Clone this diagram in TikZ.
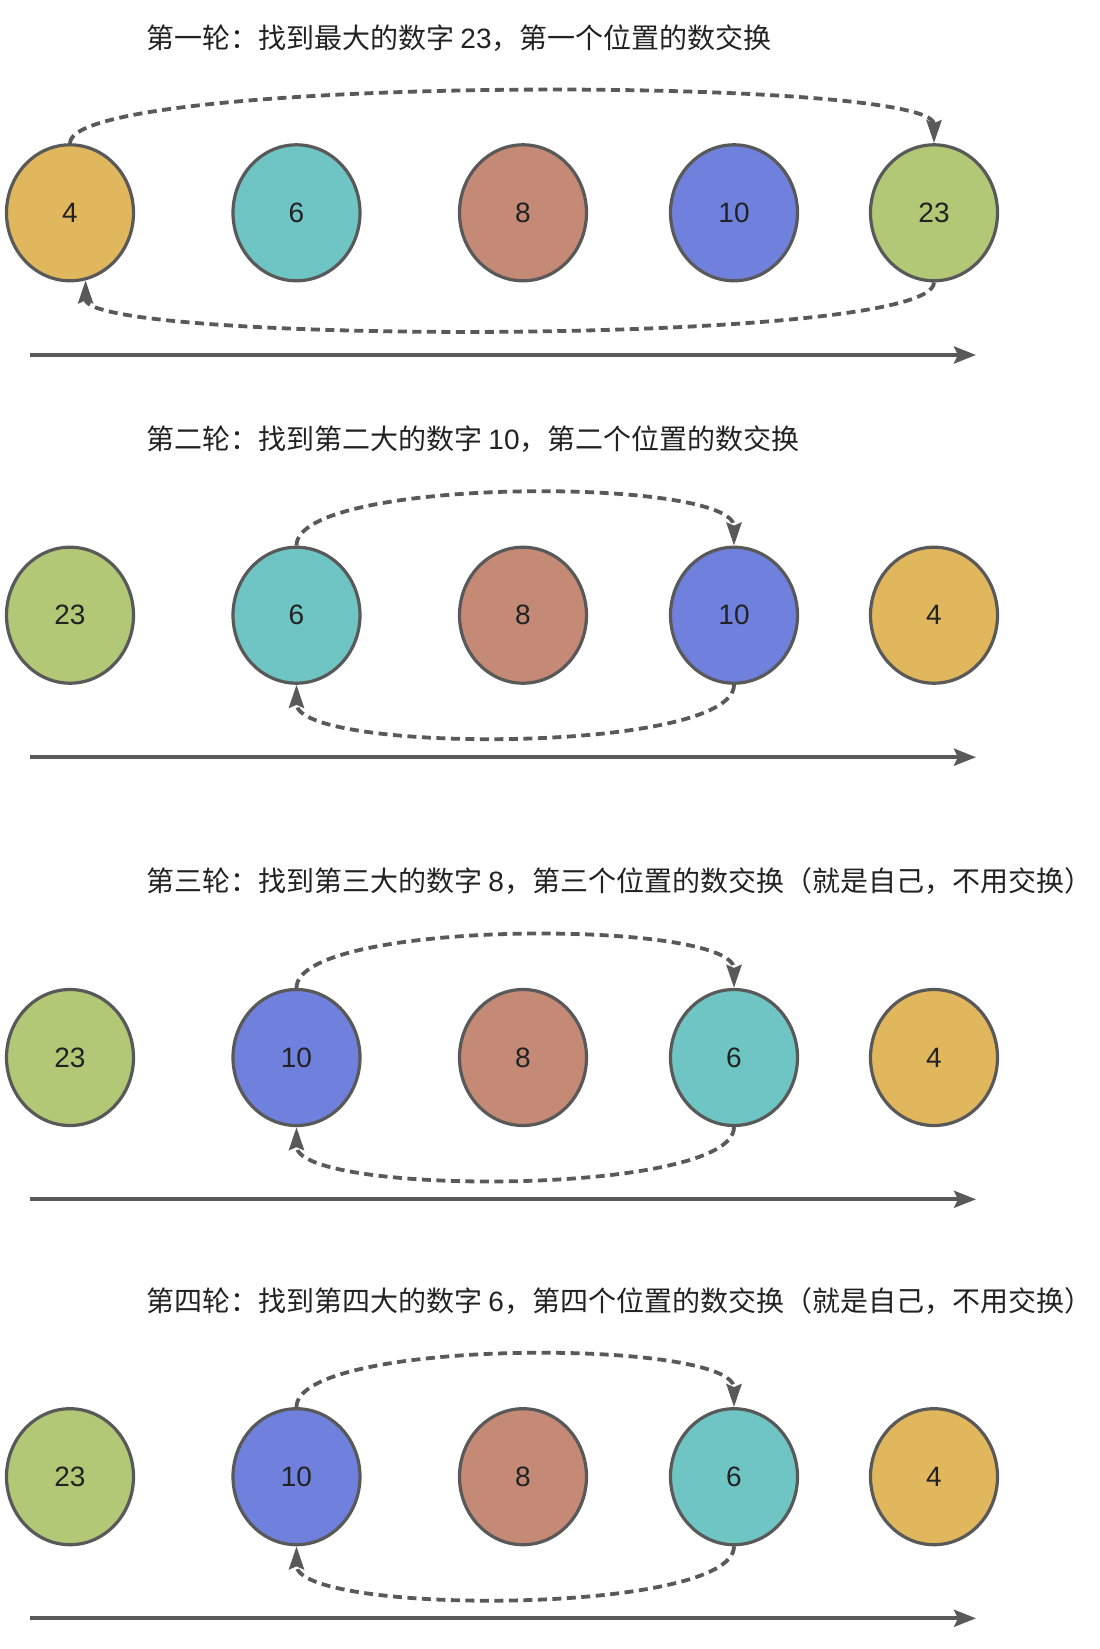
\documentclass[tikz,border=0pt]{standalone}
\usepackage{fontspec}
\setmainfont{Noto Sans CJK SC}
\newfontfamily\latf{Liberation Sans}
\usetikzlibrary{shapes.geometric,arrows.meta,calc}
\definecolor{cyel}{HTML}{E1B75D}
\definecolor{cteal}{HTML}{6FC4C4}
\definecolor{cbrown}{HTML}{C48A76}
\definecolor{cblue}{HTML}{6F80DD}
\definecolor{cgreen}{HTML}{B3C877}
\definecolor{lineg}{HTML}{595959}
\definecolor{txt}{HTML}{222222}
\tikzset{
  ball/.style={ellipse, draw=lineg, line width=3.2pt, minimum width=127pt, minimum height=136pt,
    inner sep=0pt, font=\latf\fontsize{28}{30}\selectfont, text=txt},
  title/.style={anchor=west, inner sep=0pt, font=\fontsize{28}{32}\selectfont, text=txt},
  swap/.style={draw=lineg, line width=3.8pt, dash pattern=on 9pt off 5.5pt,
    -{Stealth[length=23pt,width=15pt,inset=3pt]}},
  axisline/.style={draw=lineg, line width=4pt, -{Stealth[length=22pt,width=17pt,inset=4pt]}},
}
\begin{document}
\begin{tikzpicture}[x=1pt,y=-1pt]
\useasboundingbox (0,0) rectangle (1100,1649);

% ---------- Row 1 ----------
\node[title] (t1) at (146,38.3) {第一轮：找到最大的数字 {\latf 23}，第一个位置的数交换};
\node[ball, fill=cyel]   (r1a) at (70,212.8)  {4};
\node[ball, fill=cteal]  (r1b) at (296.5,212.8) {6};
\node[ball, fill=cbrown] (r1c) at (523,212.8) {8};
\node[ball, fill=cblue]  (r1d) at (734,212.8) {10};
\node[ball, fill=cgreen] (r1e) at (934,212.8) {23};
\draw[swap] (r1a.north) .. controls ($(r1a.north)+(0,-68)$) and ($(r1e.north)+(0,-68)$) .. (r1e.north);
\draw[swap] (r1e.south) .. controls ($(r1e.south)+(0,64)$) and ($(r1a.-77)+(0,64)$) .. (r1a.-77);
\coordinate (x1s) at (30,355);
\coordinate (x1e) at (976,355);
\draw[axisline] (x1s) -- (x1e);

% ---------- Row 2 ----------
\node[title] (t2) at (146,439.6) {第二轮：找到第二大的数字 {\latf 10}，第二个位置的数交换};
\node[ball, fill=cgreen] (r2a) at (70,615.2)  {23};
\node[ball, fill=cteal]  (r2b) at (296.5,615.2) {6};
\node[ball, fill=cbrown] (r2c) at (523,615.2) {8};
\node[ball, fill=cblue]  (r2d) at (734,615.2) {10};
\node[ball, fill=cyel]   (r2e) at (934,615.2) {4};
\draw[swap] (r2b.north) .. controls ($(r2b.north)+(0,-69)$) and ($(r2d.north)+(0,-69)$) .. (r2d.north);
\draw[swap] (r2d.south) .. controls ($(r2d.south)+(0,69)$) and ($(r2b.south)+(0,69)$) .. (r2b.south);
\coordinate (x2s) at (30,757.2);
\coordinate (x2e) at (976,757.2);
\draw[axisline] (x2s) -- (x2e);

% ---------- Row 3 ----------
\node[title] (t3) at (146,881.3) {第三轮：找到第三大的数字 {\latf 8}，第三个位置的数交换（就是自己，不用交换）};
\node[ball, fill=cgreen] (r3a) at (70,1057.5)  {23};
\node[ball, fill=cblue]  (r3b) at (296.5,1057.5) {10};
\node[ball, fill=cbrown] (r3c) at (523,1057.5) {8};
\node[ball, fill=cteal]  (r3d) at (734,1057.5) {6};
\node[ball, fill=cyel]   (r3e) at (934,1057.5) {4};
\draw[swap] (r3b.north) .. controls ($(r3b.north)+(0,-69)$) and ($(r3d.north)+(0,-69)$) .. (r3d.north);
\draw[swap] (r3d.south) .. controls ($(r3d.south)+(0,69)$) and ($(r3b.south)+(0,69)$) .. (r3b.south);
\coordinate (x3s) at (30,1199.3);
\coordinate (x3e) at (976,1199.3);
\draw[axisline] (x3s) -- (x3e);

% ---------- Row 4 ----------
\node[title] (t4) at (146,1300.8) {第四轮：找到第四大的数字 {\latf 6}，第四个位置的数交换（就是自己，不用交换）};
\node[ball, fill=cgreen] (r4a) at (70,1476.7)  {23};
\node[ball, fill=cblue]  (r4b) at (296.5,1476.7) {10};
\node[ball, fill=cbrown] (r4c) at (523,1476.7) {8};
\node[ball, fill=cteal]  (r4d) at (734,1476.7) {6};
\node[ball, fill=cyel]   (r4e) at (934,1476.7) {4};
\draw[swap] (r4b.north) .. controls ($(r4b.north)+(0,-69)$) and ($(r4d.north)+(0,-69)$) .. (r4d.north);
\draw[swap] (r4d.south) .. controls ($(r4d.south)+(0,69)$) and ($(r4b.south)+(0,69)$) .. (r4b.south);
\coordinate (x4s) at (30,1618.3);
\coordinate (x4e) at (976,1618.3);
\draw[axisline] (x4s) -- (x4e);
\end{tikzpicture}
\end{document}
